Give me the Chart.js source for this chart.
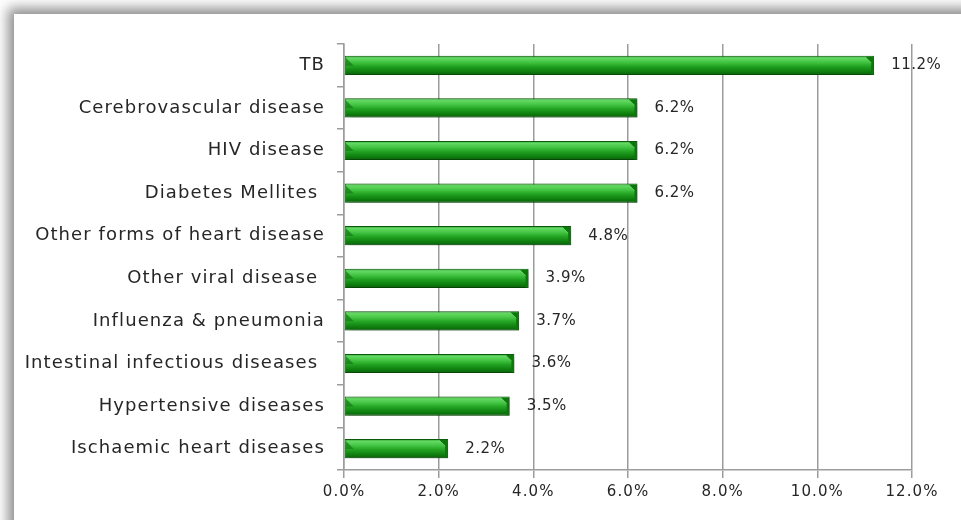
<!DOCTYPE html>
<html>
<head>
<meta charset="utf-8">
<script src="https://cdn.jsdelivr.net/npm/chart.js@4/dist/chart.umd.min.js"></script>
<style>
  html, body { margin: 0; padding: 0; background: #fff; overflow: hidden; }
  #frame {
    position: absolute; left: 14px; top: 14px; width: 1000px; height: 600px;
    background: #fff; box-shadow: -3px -3px 12px 3px rgba(0, 0, 0, 0.45);
  }
  #wrap { position: absolute; left: 0; top: 0; width: 961px; height: 520px; }
</style>
</head>
<body>
<div id="frame"></div>
<div id="wrap"><canvas id="causes"></canvas></div>
<script>
// causes of death, share of total (%)
const causes = [
  'TB',
  'Cerebrovascular disease',
  'HIV disease',
  'Diabetes Mellites ',
  'Other forms of heart disease',
  'Other viral disease ',
  'Influenza & pneumonia',
  'Intestinal infectious diseases ',
  'Hypertensive diseases',
  'Ischaemic heart diseases'
];
const shares = [11.2, 6.2, 6.2, 6.2, 4.8, 3.9, 3.7, 3.6, 3.5, 2.2];
const xTicks = [0, 2, 4, 6, 8, 10, 12];

const FONT = 'DejaVu Sans';
const TEXT = '#262626';
const GRID = '#9c9c9c';
const CAT_PCT = 0.9;
const BAR_PCT = 0.5;

// vertical gradient for each bar, built from the category scale
function barFill(ctx) {
  const chart = ctx.chart;
  const y = chart.scales.y;
  if (!y || ctx.dataIndex === undefined) return '#2a9d2a';
  const step = y.height / causes.length;
  const h = step * CAT_PCT * BAR_PCT;
  const cy = y.getPixelForValue(ctx.dataIndex);
  if (!isFinite(cy) || !isFinite(h) || h <= 0) return '#2a9d2a';
  const g = chart.ctx.createLinearGradient(0, cy - h / 2, 0, cy + h / 2);
  g.addColorStop(0, '#2f9f2f');
  g.addColorStop(0.12, '#63d963');
  g.addColorStop(0.32, '#45c645');
  g.addColorStop(0.55, '#22a322');
  g.addColorStop(0.8, '#0f800f');
  g.addColorStop(1, '#0a620a');
  return g;
}

// wider letter spacing for the axis text
const spacing = {
  id: 'spacing',
  beforeDraw(chart) { chart.ctx.letterSpacing = '1.1px'; }
};

// soft shadow under the bars
const barShadow = {
  id: 'barShadow',
  beforeDatasetsDraw(chart) {
    const c = chart.ctx;
    c.save();
    c.shadowColor = 'rgba(0,0,0,0.35)';
    c.shadowBlur = 6;
    c.shadowOffsetX = 2;
    c.shadowOffsetY = 3;
  },
  afterDatasetsDraw(chart) {
    chart.ctx.restore();
  }
};

// bevelled ends and value labels
const barDecor = {
  id: 'barDecor',
  afterDatasetsDraw(chart) {
    const c = chart.ctx;
    const meta = chart.getDatasetMeta(0);
    c.save();
    meta.data.forEach((bar, i) => {
      const top = bar.y - bar.height / 2;
      const bot = bar.y + bar.height / 2;
      const x0 = bar.base;
      const x1 = bar.x;
      // left end: shaded corner over the highlight band
      c.fillStyle = 'rgba(20,120,20,0.7)';
      c.beginPath();
      c.moveTo(x0 + 1, top + 2);
      c.lineTo(x0 + 9, top + 10);
      c.lineTo(x0 + 1, top + 10);
      c.closePath();
      c.fill();
      // right end: chamfered cap
      c.fillStyle = '#0c780c';
      c.beginPath();
      c.moveTo(x1 - 9, top + 1);
      c.lineTo(x1 - 0.5, top + 1);
      c.lineTo(x1 - 0.5, bot - 0.5);
      c.lineTo(x1 - 3, bot - 0.5);
      c.lineTo(x1 - 3, top + 7);
      c.closePath();
      c.fill();
      c.strokeStyle = 'rgba(120,220,120,0.7)';
      c.lineWidth = 1;
      c.beginPath();
      c.moveTo(x1 - 9, top + 1);
      c.lineTo(x1 - 3, top + 7);
      c.stroke();
      // value label
      c.fillStyle = TEXT;
      c.letterSpacing = '0.5px';
      c.font = '15px "' + FONT + '"';
      c.textAlign = 'left';
      c.textBaseline = 'middle';
      c.fillText(shares[i].toFixed(1) + '%', x1 + 17, bar.y);
    });
    c.restore();
  }
};

new Chart(document.getElementById('causes'), {
  type: 'bar',
  data: {
    labels: causes,
    datasets: [{
      data: shares,
      backgroundColor: barFill,
      borderColor: '#0b5f0b',
      borderWidth: 1,
      borderSkipped: false,
      categoryPercentage: CAT_PCT,
      barPercentage: BAR_PCT
    }]
  },
  options: {
    indexAxis: 'y',
    responsive: true,
    maintainAspectRatio: false,
    animation: false,
    layout: { padding: { left: 14, top: 44, right: 49, bottom: 0 } },
    plugins: { legend: { display: false }, tooltip: { enabled: false } },
    scales: {
      x: {
        min: 0,
        max: 12,
        afterBuildTicks(scale) { scale.ticks = xTicks.map(v => ({ value: v })); },
        afterFit(scale) { scale.height = 50; },
        grid: { color: GRID, lineWidth: 1.5, tickLength: 8 },
        border: { color: GRID, width: 1.5 },
        ticks: {
          color: TEXT,
          font: { family: FONT, size: 15 },
          padding: 5,
          callback: v => v.toFixed(1) + '%'
        }
      },
      y: {
        afterFit(scale) { scale.width = 344 - 14; },
        grid: { offset: true, drawOnChartArea: false, color: GRID, lineWidth: 1.5, tickLength: 7 },
        border: { color: GRID, width: 1.5 },
        ticks: { color: TEXT, font: { family: FONT, size: 18 }, padding: 12 }
      }
    }
  },
  plugins: [spacing, barShadow, barDecor]
});
</script>
</body>
</html>
